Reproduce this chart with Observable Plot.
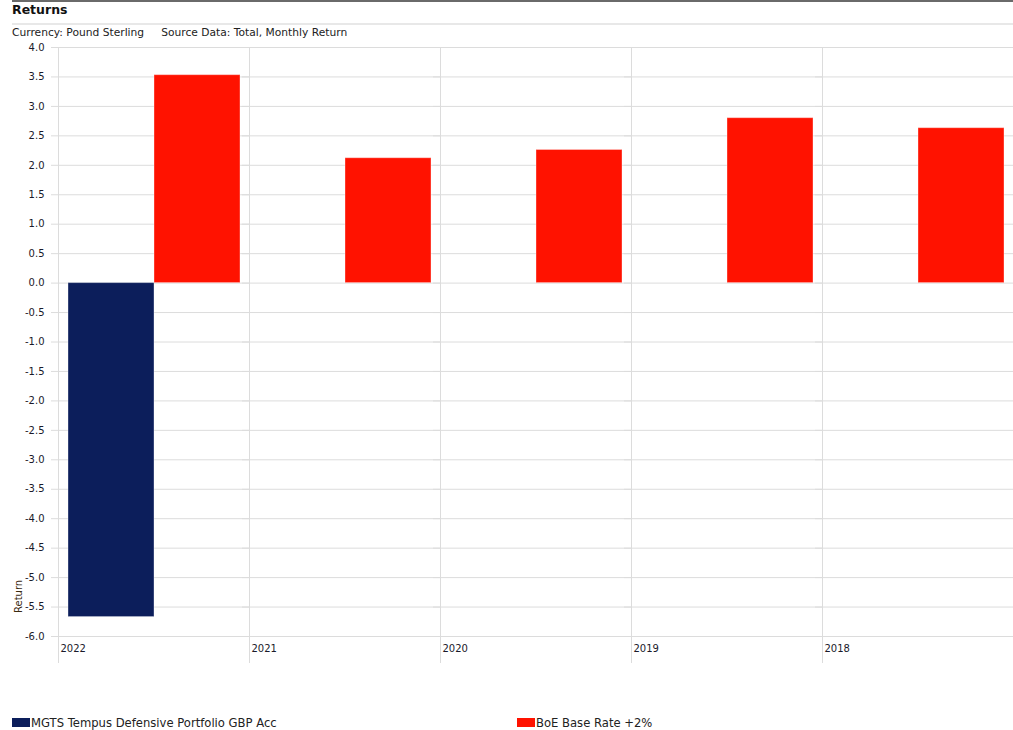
<!DOCTYPE html>
<html>
<head>
<meta charset="utf-8">
<script src="https://cdn.jsdelivr.net/npm/d3@7"></script>
<script src="https://cdn.jsdelivr.net/npm/@observablehq/plot@0.6"></script>
<style>
  html, body { margin: 0; padding: 0; background: #fff; }
  body { width: 1013px; height: 730px; position: relative; overflow: hidden; font-family: "DejaVu Sans", sans-serif; color: #1a1a2a; }
  #topline { position: absolute; left: 12px; right: 0; top: 0; height: 2px; background: #6a6a6a; }
  #title { position: absolute; left: 12px; top: 2px; font-size: 12.5px; font-weight: bold; color: #111; }
  #sep { position: absolute; left: 12px; right: 0; top: 23px; height: 2px; background: #e8e8e8; }
  #subtitle { position: absolute; left: 12px; top: 26px; font-size: 10.7px; color: #222; white-space: pre; }
  #chart { position: absolute; left: 0; top: 40px; }
  #legend { position: absolute; left: 0; top: 716px; width: 1013px; height: 16px; font-size: 11.6px; color: #222; }
  .item { position: absolute; top: 0; white-space: nowrap; }
  .sw { display: inline-block; width: 18px; height: 9px; vertical-align: 0px; margin-right: 1px; }
</style>
</head>
<body>
<div id="topline"></div>
<div id="title">Returns</div>
<div id="sep"></div>
<div id="subtitle">Currency: Pound Sterling     Source Data: Total, Monthly Return</div>
<div id="chart"></div>
<div id="legend"></div>
<script>
const years = ["2022", "2021", "2020", "2019", "2018"];
const seriesNames = ["MGTS Tempus Defensive Portfolio GBP Acc", "BoE Base Rate +2%"];
const seriesColors = ["#0c1e5b", "#ff1200"];
const fundValues = [-5.67, null, null, null, null];
const benchmarkValues = [3.53, 2.12, 2.26, 2.80, 2.63];
const yTicks = [4.0, 3.5, 3.0, 2.5, 2.0, 1.5, 1.0, 0.5, 0.0, -0.5, -1.0, -1.5, -2.0, -2.5, -3.0, -3.5, -4.0, -4.5, -5.0, -5.5, -6.0];
const yLabel = "Return";

const rows = [];
years.forEach((yr, i) => {
  if (fundValues[i] != null) rows.push({year: yr, series: seriesNames[0], value: fundValues[i]});
  if (benchmarkValues[i] != null) rows.push({year: yr, series: seriesNames[1], value: benchmarkValues[i]});
});

const fontFamily = "DejaVu Sans, sans-serif";
const chart = Plot.plot({
  width: 1013,
  height: 630,
  marginTop: 7,
  marginBottom: 34,
  marginLeft: 58,
  marginRight: 0,
  style: {fontFamily, fontSize: "10px", color: "#1a1a2a", background: "transparent", overflow: "visible"},
  fx: {domain: years, paddingInner: 0, paddingOuter: 0, axis: null, label: null},
  x: {domain: seriesNames, paddingInner: 0, paddingOuter: 0.11, axis: null, label: null},
  y: {domain: [-6, 4], ticks: yTicks, label: null, axis: null},
  color: {domain: seriesNames, range: seriesColors},
  marks: [
    Plot.gridY(yTicks, {stroke: "#dcdcdc", strokeOpacity: 1, insetLeft: -7}),
    Plot.frame({anchor: "left", stroke: "#dcdcdc", strokeOpacity: 1, insetBottom: -26}),
    Plot.axisY(yTicks, {tickSize: 0, tickPadding: 14, tickFormat: d => d.toFixed(1), fontSize: 10, fill: "#1a1a2a", label: null}),
    Plot.barY(rows, {fx: "year", x: "series", y: "value", fill: "series", stroke: "#ffffff", strokeOpacity: 0.35, strokeWidth: 1}),
    Plot.text(years, {fx: d => d, text: d => d, frameAnchor: "bottom-left", textAnchor: "start", dx: 2, dy: 15, fontSize: 10, fill: "#1a1a2a"})
  ]
});
document.getElementById("chart").appendChild(chart);

d3.select(chart).append("text")
  .attr("transform", "translate(22,573) rotate(-90)")
  .attr("text-anchor", "start")
  .attr("font-family", fontFamily)
  .attr("font-size", 10)
  .attr("fill", "#3a2a10")
  .text(yLabel);

const legend = d3.select("#legend");
const legendX = [12, 517];
seriesNames.forEach((s, i) => {
  const it = legend.append("div").attr("class", "item").style("left", legendX[i] + "px");
  it.append("span").attr("class", "sw").style("background", seriesColors[i]);
  it.append("span").text(s);
});
</script>
</body>
</html>
